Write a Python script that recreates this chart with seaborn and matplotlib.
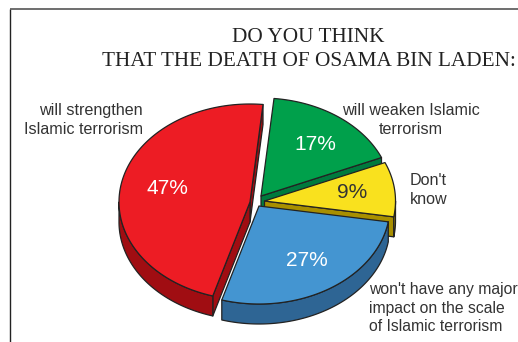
import numpy as np
import matplotlib
matplotlib.use("Agg")
import matplotlib.pyplot as plt
import seaborn as sns

# Survey shares, counter-clockwise from the top of the pie
categories = ["will strengthen", "won't have any major", "Don't know", "will weaken"]
shares = [47, 27, 9, 17]
top_colors = ["#ED1C24", "#4495D1", "#F9E11E", "#00A04B"]
side_colors = ["#A00D12", "#2E6594", "#A88F00", "#007A3D"]
title_lines = ["DO YOU THINK", "THAT THE DEATH OF OSAMA BIN LADEN:"]

RX, RY, DEPTH = 131, 98, 20
START = 84.3
INK = "#222222"

sns.set_theme(style="white")
plt.rcParams["font.family"] = ["Liberation Sans", "DejaVu Sans"]

fig = plt.figure(figsize=(5.18, 3.42), dpi=100)
ax = fig.add_axes([0, 0, 1, 1])
ax.set_xlim(0, 518)
ax.set_ylim(342, 0)
ax.axis("off")

# Outer frame, open on the right and bottom
ax.plot([9.5, 9.5], [342, 8.5], color="#222222", lw=1.0, solid_capstyle="butt")
ax.plot([9.5, 518], [8.5, 8.5], color="#555555", lw=1.2, solid_capstyle="butt")

# Wedge angles follow from the shares
edges = START + np.cumsum([0] + shares) * 3.6
spans = dict(zip(categories, zip(edges[:-1], edges[1:])))
centres = {
    "will strengthen": (250, 202),
    "won't have any major": (259, 206),
    "Don't know": (264.5, 201),
    "will weaken": (261, 196),
}
palette = dict(zip(categories, zip(sns.color_palette(top_colors), sns.color_palette(side_colors))))


def arc(cx, cy, a0, a1):
    t = np.radians(np.linspace(a0, a1, max(int(abs(a1 - a0)) * 2, 2)))
    return cx + RX * np.cos(t), cy - RY * np.sin(t)


def face_visible(a, a_mid):
    # A cut face shows when the wedge top lies above the cut line on screen
    ex, ey = RX * np.cos(np.radians(a)), -RY * np.sin(np.radians(a))
    mx, my = RX * np.cos(np.radians(a_mid)), -RY * np.sin(np.radians(a_mid))
    return my < ey / ex * mx


def draw_wedge(name):
    a0, a1 = spans[name]
    cx, cy = centres[name]
    top, side = palette[name]
    style = dict(edgecolor=INK, lw=0.9, joinstyle="round")

    # Radial cut faces, extruded downwards
    for a in (a0, a1):
        if face_visible(a, (a0 + a1) / 2):
            x, y = arc(cx, cy, a, a)
            ax.fill([cx, x[0], x[0], cx], [cy, y[0], y[0] + DEPTH, cy + DEPTH],
                    facecolor=side, **style)

    # Outer rim on the lower half of the ellipse
    for lo, hi in ((180, 360), (540, 720)):
        s0, s1 = max(a0, lo), min(a1, hi)
        if s1 > s0:
            x, y = arc(cx, cy, s0, s1)
            ax.fill(np.r_[x, x[::-1]], np.r_[y, y[::-1] + DEPTH], facecolor=side, **style)

    # Top face
    x, y = arc(cx, cy, a0, a1)
    ax.fill(np.r_[cx, x], np.r_[cy, y], facecolor=top, **style)


for name in ["will weaken", "will strengthen", "Don't know", "won't have any major"]:
    draw_wedge(name)

# Percentages on the wedges
value_style = dict(ha="center", va="center", fontsize=15)
ax.text(167, 189, f"{shares[0]}%", color="white", **value_style)
ax.text(307, 261, f"{shares[1]}%", color="white", **value_style)
ax.text(352, 193, f"{shares[2]}%", color="#333333", **value_style)
ax.text(315, 144, f"{shares[3]}%", color="white", **value_style)

# Category captions
caption = dict(color="#333333", linespacing=1.3, va="center")
ax.text(143, 120, "will strengthen\nIslamic terrorism", ha="right", fontsize=11.6, **caption)
ax.text(411, 120, "will weaken Islamic\nterrorism", ha="center", fontsize=11.6, **caption)
ax.text(410, 190, "Don't\nknow", ha="left", fontsize=11.6, **caption)
ax.text(369, 308, "won't have any major\nimpact on the scale\nof Islamic terrorism", ha="left", fontsize=11.3, **caption)

# Two-line heading
heading = dict(family="Liberation Serif", color="#222222", fontsize=15.3, ha="center", va="center")
ax.text(308.5, 37, title_lines[0], **heading)
ax.text(308.5, 61.5, title_lines[1], **heading)

fig.savefig("out.png", dpi=100)
